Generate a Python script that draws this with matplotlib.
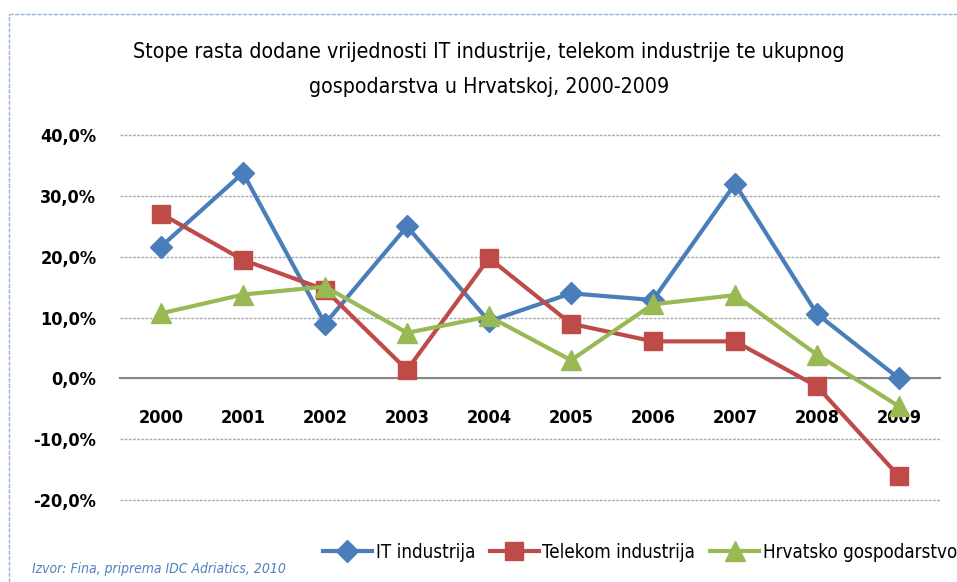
import matplotlib
matplotlib.use("Agg")
from matplotlib import pyplot as plt
from matplotlib.lines import Line2D

godine = ["2000", "2001", "2002", "2003", "2004", "2005", "2006", "2007", "2008", "2009"]
it_industrija = [21.7, 33.8, 9.0, 25.0, 9.4, 14.0, 12.9, 32.0, 10.6, 0.0]
telekom_industrija = [27.1, 19.5, 14.6, 1.4, 19.8, 9.0, 6.1, 6.1, -1.3, -16.1]
hrvatsko_gospodarstvo = [10.7, 13.8, 15.1, 7.5, 10.2, 3.0, 12.2, 13.7, 3.9, -4.6]
y_ticks = [-20, -10, 0, 10, 20, 30, 40]

plt.rcParams['font.family'] = ['DejaVu Sans']
plt.rcParams['font.stretch'] = 'condensed'

W, H = 957, 582
fig = plt.figure(figsize=(W / 100, H / 100), dpi=100)
ax = fig.add_axes([120 / W, 1 - 500 / H, 820 / W, (500 - 135.3) / H])

x = list(range(len(godine)))
ax.plot(x, it_industrija, color='#4A7EBB', lw=3, marker='D', ms=11, label='IT industrija', zorder=3)
ax.plot(x, telekom_industrija, color='#BE4B48', lw=3, marker='s', ms=13, label='Telekom industrija', zorder=3)
ax.plot(x, hrvatsko_gospodarstvo, color='#98B954', lw=3, marker='^', ms=14, label='Hrvatsko gospodarstvo', zorder=3)

for s in ['top', 'right', 'left']:
    ax.spines[s].set_visible(False)
ax.spines['bottom'].set_position(('data', 0))
ax.spines['bottom'].set_color('#868686')
ax.spines['bottom'].set_linewidth(1.5)
ax.spines['bottom'].set_zorder(2)

ax.set_xlim(-0.5, len(godine) - 0.5)
ax.set_ylim(-20, 40)
ax.set_yticks(y_ticks)
ax.set_yticklabels([f"{v:.1f}%".replace(".", ",") for v in y_ticks], fontsize=13, fontweight='bold')
ax.set_xticks(x)
ax.set_xticklabels(godine, fontsize=13, fontweight='bold')

ax.yaxis.grid(True, color='#A8A8A8', linestyle=(0, (2, 1)), lw=1)
for gl in ax.get_ygridlines():
    gl.set_clip_on(False)
ax.set_axisbelow(True)
ax.tick_params(axis='both', length=0)
ax.tick_params(axis='y', pad=17)
ax.tick_params(axis='x', pad=22)

# naslov u dva retka
fig.text(489 / W, 1 - 52 / H,
         "Stope rasta dodane vrijednosti IT industrije, telekom industrije te ukupnog",
         ha='center', va='center', fontsize=15.3)
fig.text(489 / W, 1 - 87 / H, "gospodarstva u Hrvatskoj, 2000-2009",
         ha='center', va='center', fontsize=15.3)

fig.legend(loc='center', bbox_to_anchor=(640 / W, 1 - 552 / H), ncol=3, frameon=False,
           fontsize=13.5, handlelength=2.6, handletextpad=0.2, columnspacing=0.8)

fig.text(32 / W, 1 - 569 / H, "Izvor: Fina, priprema IDC Adriatics, 2010",
         ha='left', va='center', fontsize=10, style='italic', color='#4F81BD')

# okvir grafikona
fig.add_artist(Line2D([9 / W, 1.0], [1 - 14 / H, 1 - 14 / H], color='#95B3D7', lw=1,
                      linestyle=(0, (3, 1)), transform=fig.transFigure))
fig.add_artist(Line2D([9 / W, 9 / W], [0.0, 1 - 14 / H], color='#95B3D7', lw=1,
                      linestyle=(0, (3, 1)), transform=fig.transFigure))

fig.savefig("out.png", dpi=100)
